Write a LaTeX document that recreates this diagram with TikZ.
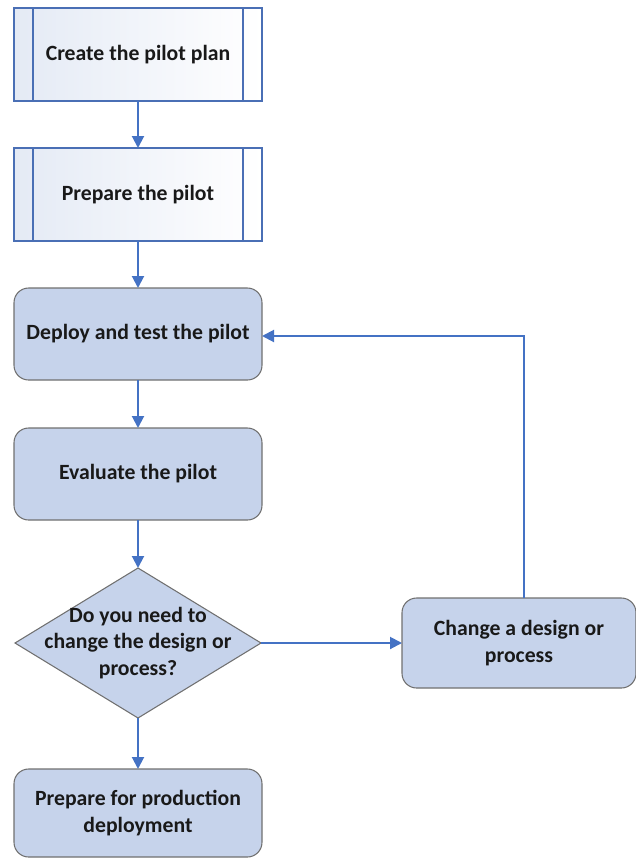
\documentclass[tikz,border=0pt]{standalone}
\usepackage{fontspec}
\setmainfont{Carlito}
\usetikzlibrary{shapes.geometric,arrows.meta}
\definecolor{arrowblue}{HTML}{4472C4}
\definecolor{procline}{HTML}{4A6FB5}
\definecolor{boxfill}{HTML}{C6D3EB}
\definecolor{boxline}{HTML}{707070}
\definecolor{procleft}{HTML}{E4EAF5}
\begin{document}
\begin{tikzpicture}[x=0.75pt,y=-0.75pt,
  every node/.style={font=\bfseries\fontsize{16.3}{20}\selectfont, text=black!90, align=center, inner sep=0pt, outer sep=0pt},
  procbox/.style={draw=procline, line width=1pt, left color=procleft, right color=white, minimum width=186pt, minimum height=69.75pt},
  roundbox/.style={draw=boxline, line width=0.8pt, fill=boxfill, rounded corners=11pt, minimum width=186pt, minimum height=69pt},
  decision/.style={diamond, draw=boxline, line width=0.8pt, fill=boxfill, minimum width=184.5pt, minimum height=112.5pt},
  flow/.style={draw=arrowblue, line width=1.5pt, -{Triangle[length=9pt,width=9pt]}}
]
\useasboundingbox (0,0) rectangle (636,858);

\node[procbox] (p1) at (138,54.5) {Create the pilot plan};
\node[procbox] (p2) at (138,194.5) {Prepare the pilot};
\foreach \n in {p1,p2}{
  \draw[procline, line width=1pt] ([xshift=14.25pt]\n.north west) -- ([xshift=14.25pt]\n.south west);
  \draw[procline, line width=1pt] ([xshift=-14.25pt]\n.north east) -- ([xshift=-14.25pt]\n.south east);
}
\node[roundbox] (deploy) at (138,334) {Deploy and test the pilot};
\node[roundbox] (eval) at (138,474) {Evaluate the pilot};
\node[decision] (dec) at (138,643) {};
\node (dectext) at (138,643) {Do you need to\\change the design or\\process?};
\node[roundbox, minimum width=175.5pt, minimum height=67.5pt] (change) at (519,643) {Change a design or\\process};
\node[roundbox, minimum height=66pt] (prod) at (138,813) {Prepare for production\\deployment};

\draw[flow] (p1.south) -- (p2.north);
\draw[flow] (p2.south) -- (deploy.north);
\draw[flow] (deploy.south) -- (eval.north);
\draw[flow] (eval.south) -- (dec.north);
\draw[flow] (dec.south) -- (prod.north);
\draw[flow] (dec.east) -- (change.west);
\coordinate (corner) at (524,336);
\draw[flow] ([xshift=3.75pt]change.north) |- (deploy.east |- corner);
\end{tikzpicture}
\end{document}
